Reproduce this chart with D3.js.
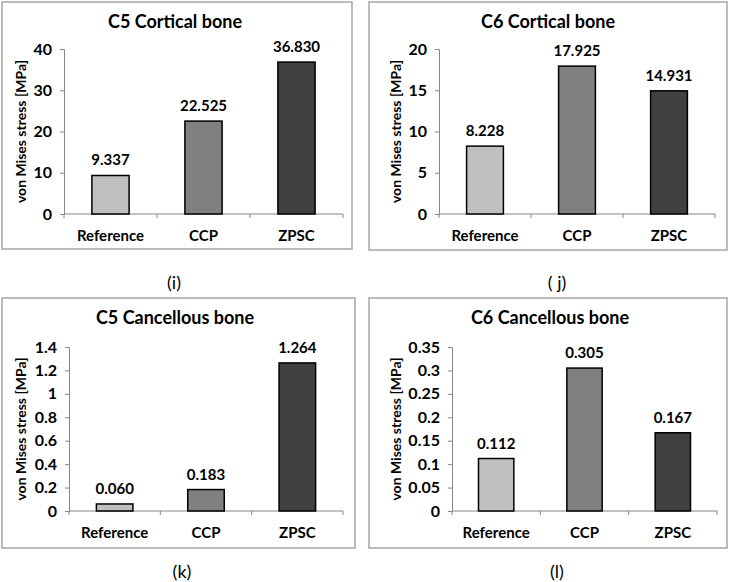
<!DOCTYPE html>
<html>
<head>
<meta charset="utf-8">
<script src="https://cdn.jsdelivr.net/npm/d3@7"></script>
<style>
  body { margin: 0; background: #fff; }
  svg { font-family: Lato, "Open Sans", sans-serif; }
</style>
</head>
<body>
<svg id="chart" width="730" height="582"></svg>
<script>
// data
var categories = ['Reference', 'CCP', 'ZPSC'];
var titles = ['C5 Cortical bone', 'C6 Cortical bone', 'C5 Cancellous bone', 'C6 Cancellous bone'];
var captions = ['(i)', '( j)', '(k)', '(l)'];
var c5Cortical = [9.337, 22.525, 36.830];
var c6Cortical = [8.228, 17.925, 14.931];
var c5Cancellous = [0.060, 0.183, 1.264];
var c6Cancellous = [0.112, 0.305, 0.167];
var ticksI = [0, 10, 20, 30, 40];
var ticksJ = [0, 5, 10, 15, 20];
var ticksK = [0, 0.2, 0.4, 0.6, 0.8, 1, 1.2, 1.4];
var ticksL = [0, 0.05, 0.1, 0.15, 0.2, 0.25, 0.3, 0.35];
var valueLabels = [
  ['9.337', '22.525', '36.830'],
  ['8.228', '17.925', '14.931'],
  ['0.060', '0.183', '1.264'],
  ['0.112', '0.305', '0.167']
];
var barColors = ['#c0c0c0', '#808080', '#404040'];

// layout of each panel (box + plot area)
var panels = [
  { values: c5Cortical, ticks: ticksI, box: [2, 2, 350, 247], x0: 64, x1: 343, y0: 214, y1: 49, tx: 175, cx: 174, capY: 289 },
  { values: c6Cortical, ticks: ticksJ, box: [369, 2, 358, 248], x0: 439, x1: 715, y0: 214, y1: 49, tx: 548, cx: 557, capY: 289 },
  { values: c5Cancellous, ticks: ticksK, box: [2, 298, 353, 250], x0: 69, x1: 343, y0: 511, y1: 347, tx: 175, cx: 182, capY: 578 },
  { values: c6Cancellous, ticks: ticksL, box: [369, 298, 358, 250], x0: 452, x1: 717, y0: 511, y1: 347, tx: 550, cx: 557, capY: 578 }
];

var svg = d3.select('#chart');

panels.forEach(function(p, i) {
  var g = svg.append('g');

  // panel frame
  g.append('rect')
      .attr('x', p.box[0]).attr('y', p.box[1])
      .attr('width', p.box[2]).attr('height', p.box[3])
      .attr('fill', 'none').attr('stroke', '#a6a6a6').attr('stroke-width', 1.5);

  var x = d3.scaleBand().domain(categories).range([p.x0, p.x1]).paddingInner(0.6).paddingOuter(0.3);
  var y = d3.scaleLinear().domain([0, p.ticks[p.ticks.length - 1]]).range([p.y0, p.y1]);

  // y axis
  var yAxis = g.append('g')
      .attr('transform', 'translate(' + p.x0 + ',0)')
      .call(d3.axisLeft(y).tickValues(p.ticks).tickSize(4).tickPadding(8)
          .tickFormat(function(d) { return String(+d.toFixed(2)); }));
  yAxis.select('.domain').attr('stroke', '#868686');
  yAxis.selectAll('.tick line').attr('stroke', '#868686');
  yAxis.selectAll('text').attr('font-size', 16).attr('font-weight', 'bold').attr('fill', '#000')
      .attr('font-family', 'Lato, sans-serif');

  // x axis line with ticks at band boundaries
  var bw = (p.x1 - p.x0) / categories.length;
  g.append('line')
      .attr('x1', p.x0).attr('x2', p.x1).attr('y1', p.y0).attr('y2', p.y0)
      .attr('stroke', '#868686');
  g.selectAll('.xt').data(d3.range(categories.length + 1)).enter().append('line')
      .attr('x1', function(d) { return p.x0 + d * bw; })
      .attr('x2', function(d) { return p.x0 + d * bw; })
      .attr('y1', p.y0).attr('y2', p.y0 + 4)
      .attr('stroke', '#868686');

  // bars
  g.selectAll('.bar').data(p.values).enter().append('rect')
      .attr('x', function(d, j) { return x(categories[j]); })
      .attr('y', function(d) { return y(d); })
      .attr('width', x.bandwidth())
      .attr('height', function(d) { return y(0) - y(d); })
      .attr('fill', function(d, j) { return barColors[j]; })
      .attr('stroke', '#000').attr('stroke-width', 1.5);

  // value labels
  g.selectAll('.val').data(p.values).enter().append('text')
      .attr('x', function(d, j) { return x(categories[j]) + x.bandwidth() / 2; })
      .attr('y', function(d) { return y(d) - 10; })
      .attr('text-anchor', 'middle')
      .attr('font-size', 15).attr('font-weight', 'bold')
      .text(function(d, j) { return valueLabels[i][j]; });

  // category labels
  g.selectAll('.cat').data(categories).enter().append('text')
      .attr('x', function(d) { return x(d) + x.bandwidth() / 2; })
      .attr('y', p.y0 + 27)
      .attr('text-anchor', 'middle')
      .attr('font-size', 15).attr('font-weight', 'bold')
      .text(function(d) { return d; });

  // title
  g.append('text')
      .attr('x', p.tx)
      .attr('y', p.box[1] + 26)
      .attr('text-anchor', 'middle')
      .attr('font-size', 18).attr('font-weight', 'bold')
      .text(titles[i]);

  // y label
  var ly = (p.y0 + p.y1) / 2;
  var lx = p.box[0] + (i % 2 === 0 ? 20 : 28);
  g.append('text')
      .attr('transform', 'translate(' + lx + ',' + ly + ') rotate(-90)')
      .attr('text-anchor', 'middle')
      .attr('dominant-baseline', 'middle')
      .attr('font-size', 14).attr('font-weight', 'bold')
      .text('von Mises stress [MPa]');

  // caption
  svg.append('text')
      .attr('x', p.cx).attr('y', p.capY)
      .attr('text-anchor', 'middle')
      .attr('font-size', 18)
      .text(captions[i]);
});
</script>
</body>
</html>
